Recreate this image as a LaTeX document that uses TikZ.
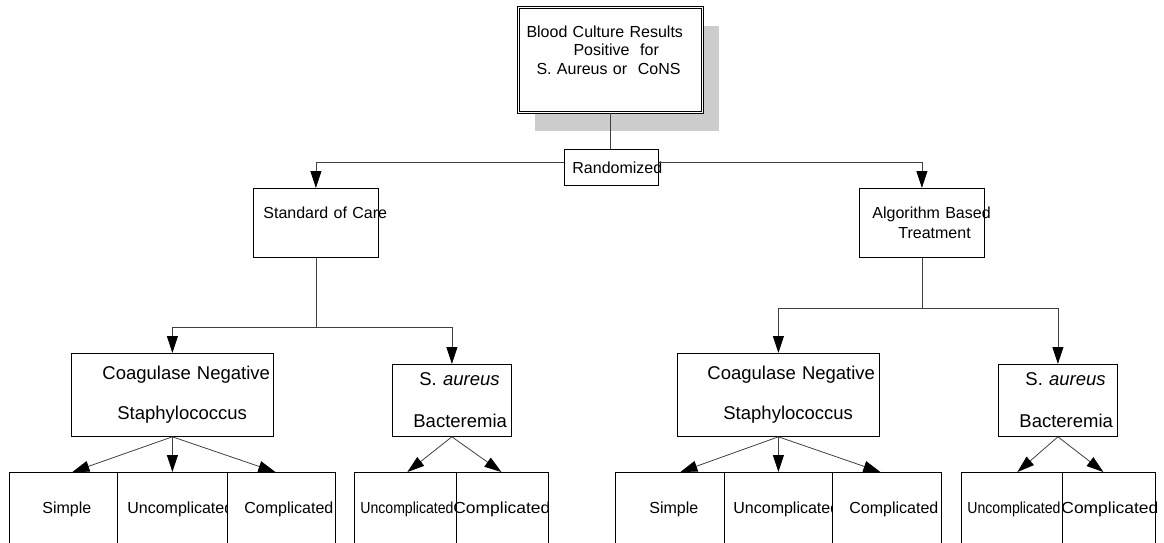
\documentclass[tikz,border=0pt]{standalone}
\usepackage{fontspec}
\setmainfont{Liberation Sans}
\usepackage{graphicx}
\usetikzlibrary{arrows.meta,shadows,calc}

\begin{document}
\begin{tikzpicture}[x=1pt, y=-1pt,
    box/.style={draw, line width=0.8pt, inner xsep=0pt, inner ysep=0pt, align=left, anchor=north west},
    txt/.style={font=\fontsize{16}{#1}\selectfont},
    txt/.default=19,
    bigtxt/.style={font=\fontsize{18.5}{#1}\selectfont},
    leaf/.style={box, txt, minimum height=73pt, fill=white},
    conn/.style={draw=black!75, line width=0.8pt},
    arr/.style={conn, -{Triangle[length=17pt, width=11pt, color=black]}}]
    \useasboundingbox (0,0) rectangle (1164,542);

    \node[box, txt=18.5, anchor=center, text width=184pt, minimum height=105pt, fill=white,
        double, double distance=1.6pt,
        drop shadow={shadow xshift=16pt, shadow yshift=-18pt, fill=black!20, opacity=1}]
        (blood) at (610.5,60) {\hspace*{8pt}\mbox{Blood Culture Results}\\\hspace*{55pt}\mbox{Positive\ \ for}\\\hspace*{18pt}\mbox{S. Aureus or\ \ CoNS}\\[2pt]\mbox{}};
    \node[box, txt, text width=94pt, minimum height=36pt] (rand) at (564,149) {\hspace*{8pt}\mbox{Randomized}};

    \node[box, txt=21, text width=125pt, minimum height=69pt] (soc) at (253,188) {\hspace*{10pt}\mbox{Standard of Care}\\\mbox{}};
    \node[box, txt=20, text width=125pt, minimum height=69pt] (algo) at (859,188) {\hspace*{13pt}\mbox{Algorithm Based}\\\hspace*{39pt}\mbox{Treatment}};

    \node[box, bigtxt=40, text width=202pt, minimum height=83pt] (cnsL) at (71,353) {\hspace*{31pt}\mbox{Coagulase Negative}\\\hspace*{46pt}\mbox{Staphylococcus}};
    \node[box, bigtxt=42, text width=119pt, minimum height=72pt] (sauL) at (392,364) {\hspace*{27pt}\mbox{S. \textit{aureus}}\\\hspace*{21pt}\mbox{Bacteremia}};
    \node[box, bigtxt=40, text width=202pt, minimum height=83pt] (cnsR) at (677,353) {\hspace*{30pt}\mbox{Coagulase Negative}\\\hspace*{46pt}\mbox{Staphylococcus}};
    \node[box, bigtxt=42, text width=119pt, minimum height=72pt] (sauR) at (998,364) {\hspace*{27pt}\mbox{S. \textit{aureus}}\\\hspace*{21pt}\mbox{Bacteremia}};

    \node[leaf, text width=108pt] (cl1) at (9,472) {\hspace*{33pt}\mbox{Simple}};
    \node[leaf, text width=110pt] (cl2) at (117,472) {\hspace*{10pt}\mbox{Uncomplicated}};
    \node[leaf, text width=108pt] (cl3) at (227,472) {\hspace*{17pt}\mbox{Complicated}};
    \node[leaf, fill=none, text width=102pt] (sl1) at (354,472) {\hspace*{6pt}\scalebox{0.88}[1]{Uncomplicated}};
    \node[leaf, fill=none, text width=92pt] (sl2) at (456,472) {\hspace*{-3pt}\scalebox{1.09}[1]{Complicated}};

    \node[leaf, text width=109pt] (cr1) at (615,472) {\hspace*{34pt}\mbox{Simple}};
    \node[leaf, text width=108pt] (cr2) at (724,472) {\hspace*{9pt}\mbox{Uncomplicated}};
    \node[leaf, text width=109pt] (cr3) at (832,472) {\hspace*{17pt}\mbox{Complicated}};
    \node[leaf, fill=none, text width=101pt] (sr1) at (961,472) {\hspace*{6pt}\scalebox{0.88}[1]{Uncomplicated}};
    \node[leaf, fill=none, text width=93pt] (sr2) at (1062,472) {\hspace*{-1pt}\scalebox{1.09}[1]{Complicated}};

    \draw[conn] (blood.south) -- (blood.south |- rand.north);
    \draw[arr] ([yshift=5pt]rand.west) -| (soc.north);
    \draw[arr] ([yshift=5pt]rand.east) -| (algo.north);

    \coordinate (socfork) at ($(soc.south)+(0,70)$);
    \draw[conn] (soc.south) -- (socfork);
    \draw[arr] (socfork) -| (cnsL.north);
    \draw[arr] (socfork) -| (sauL.north);

    \coordinate (algofork) at ($(algo.south)+(0,51)$);
    \draw[conn] (algo.south) -- (algofork);
    \draw[arr] (algofork) -| (cnsR.north);
    \draw[arr] (algofork) -| (sauR.north);

    \draw[arr] (cnsL.south) -- ([xshift=9pt]cl1.north);
    \draw[arr] (cnsL.south) -- (cl2.north);
    \draw[arr] (cnsL.south) -- ([xshift=-6pt]cl3.north);
    \draw[arr] (sauL.south) -- ([xshift=2pt]sl1.north);
    \draw[arr] (sauL.south) -- ([xshift=-1pt]sl2.north);

    \draw[arr] (cnsR.south) -- ([xshift=10.5pt]cr1.north);
    \draw[arr] (cnsR.south) -- (cr2.north);
    \draw[arr] (cnsR.south) -- ([xshift=-6.5pt]cr3.north);
    \draw[arr] (sauR.south) -- ([xshift=5.5pt]sr1.north);
    \draw[arr] (sauR.south) -- ([xshift=-5.5pt]sr2.north);
\end{tikzpicture}
\end{document}
